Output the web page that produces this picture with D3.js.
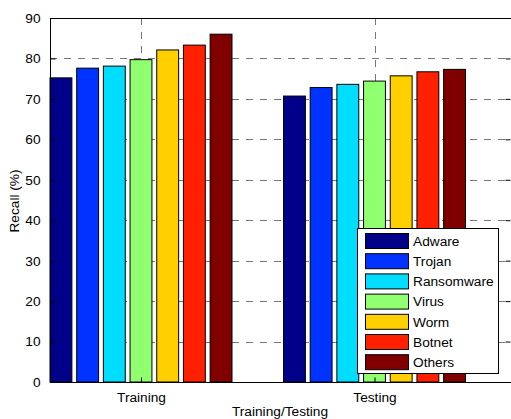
<!DOCTYPE html>
<html><head><meta charset="utf-8">
<script src="https://cdn.jsdelivr.net/npm/d3@7"></script>
<style>body{margin:0;background:#fff;} text{font-family:"Liberation Sans",Arial,Helvetica,sans-serif;}</style>
</head><body><svg id="c" width="511" height="419"></svg>
<script>
const groups = ["Training", "Testing"];
const series = ["Adware", "Trojan", "Ransomware", "Virus", "Worm", "Botnet", "Others"];
const colors = ["#000088", "#0033ff", "#00ddff", "#90ff70", "#ffcf00", "#ff2000", "#800000"];
const trainingValues = [75.2, 77.6, 78.1, 79.7, 82.1, 83.3, 86.0];
const testingValues = [70.7, 72.8, 73.6, 74.4, 75.7, 76.7, 77.3];
const yTicks = [0, 10, 20, 30, 40, 50, 60, 70, 80, 90];
const values = [trainingValues, testingValues];
const FS = 13.7;

const svg = d3.select("#c");
const L = 50, T = 18, B = 382, R = 512;
const y = d3.scaleLinear().domain([0, 90]).range([B, T]);
const x = d3.scaleLinear().domain([1, 2]).range([141, 374.5]);
const inner = d3.scaleBand().domain(series).range([-91, 91]).paddingInner(0.18).paddingOuter(0);

svg.append("clipPath").attr("id", "pc").append("rect")
  .attr("x", L).attr("y", T).attr("width", R - L).attr("height", B - T);

// grid
const grid = svg.append("g").attr("stroke", "#777").attr("stroke-dasharray", "7,7").attr("stroke-width", 1).attr("clip-path", "url(#pc)");
grid.selectAll("line.h").data(yTicks.slice(1, -1)).join("line")
  .attr("x1", L).attr("x2", R).attr("y1", d => Math.round(y(d)) + 0.5).attr("y2", d => Math.round(y(d)) + 0.5);
grid.selectAll("line.v").data([1, 2]).join("line")
  .attr("y1", T).attr("y2", B).attr("x1", d => Math.round(x(d)) + 0.5).attr("x2", d => Math.round(x(d)) + 0.5);

// bars
groups.forEach((g, gi) => {
  svg.append("g").selectAll("rect").data(values[gi]).join("rect")
    .attr("x", (d, i) => x(gi + 1) + inner(series[i]))
    .attr("width", inner.bandwidth())
    .attr("y", d => y(d))
    .attr("height", d => y(0) - y(d))
    .attr("fill", (d, i) => colors[i])
    .attr("stroke", "#000").attr("stroke-width", 1);
});

// axes box
svg.append("rect").attr("x", L + 0.5).attr("y", T + 0.5).attr("width", R - L).attr("height", B - T)
  .attr("fill", "none").attr("stroke", "#000").attr("stroke-width", 1);

const yAxis = d3.axisLeft(y).tickValues(yTicks).tickSizeInner(-5).tickSizeOuter(0).tickPadding(10);
const ga = svg.append("g").attr("transform", `translate(${L + 0.5},0)`).call(yAxis);
ga.select(".domain").remove();
ga.selectAll("text").attr("font-size", FS).attr("fill", "#000").attr("font-family", "Liberation Sans, Arial, sans-serif");
const gr = svg.append("g").attr("transform", `translate(${R - 1.5},0)`).call(d3.axisRight(y).tickValues(yTicks.slice(1, -1)).tickSizeInner(-5).tickSizeOuter(0).tickFormat(""));
gr.select(".domain").remove();

const xAxis = d3.axisBottom(x).tickValues([1, 2]).tickFormat((d, i) => groups[i]).tickSizeInner(-5).tickSizeOuter(0).tickPadding(10);
const gx = svg.append("g").attr("transform", `translate(0,${B + 0.5})`).call(xAxis);
gx.select(".domain").remove();
gx.selectAll("text").attr("font-size", FS).attr("fill", "#000").attr("font-family", "Liberation Sans, Arial, sans-serif");

svg.append("text").attr("x", 280).attr("y", 416).attr("text-anchor", "middle").attr("font-size", FS).text("Training/Testing");
svg.append("text").attr("transform", "translate(19,201) rotate(-90)").attr("text-anchor", "middle").attr("font-size", FS).text("Recall (%)");

// legend
const lg = svg.append("g");
lg.append("rect").attr("x", 357.5).attr("y", 228.5).attr("width", 141).attr("height", 145).attr("fill", "#fff").attr("stroke", "#000");
const rows = lg.selectAll("g").data(series).join("g").attr("transform", (d, i) => `translate(0,${241 + i * 20.2})`);
rows.append("rect").attr("x", 365.5).attr("y", -7.5).attr("width", 43).attr("height", 15)
  .attr("fill", (d, i) => colors[i]).attr("stroke", "#000");
rows.append("text").attr("x", 413).attr("y", 0).attr("dy", "0.35em").attr("font-size", FS).text(d => d);
</script></body></html>
